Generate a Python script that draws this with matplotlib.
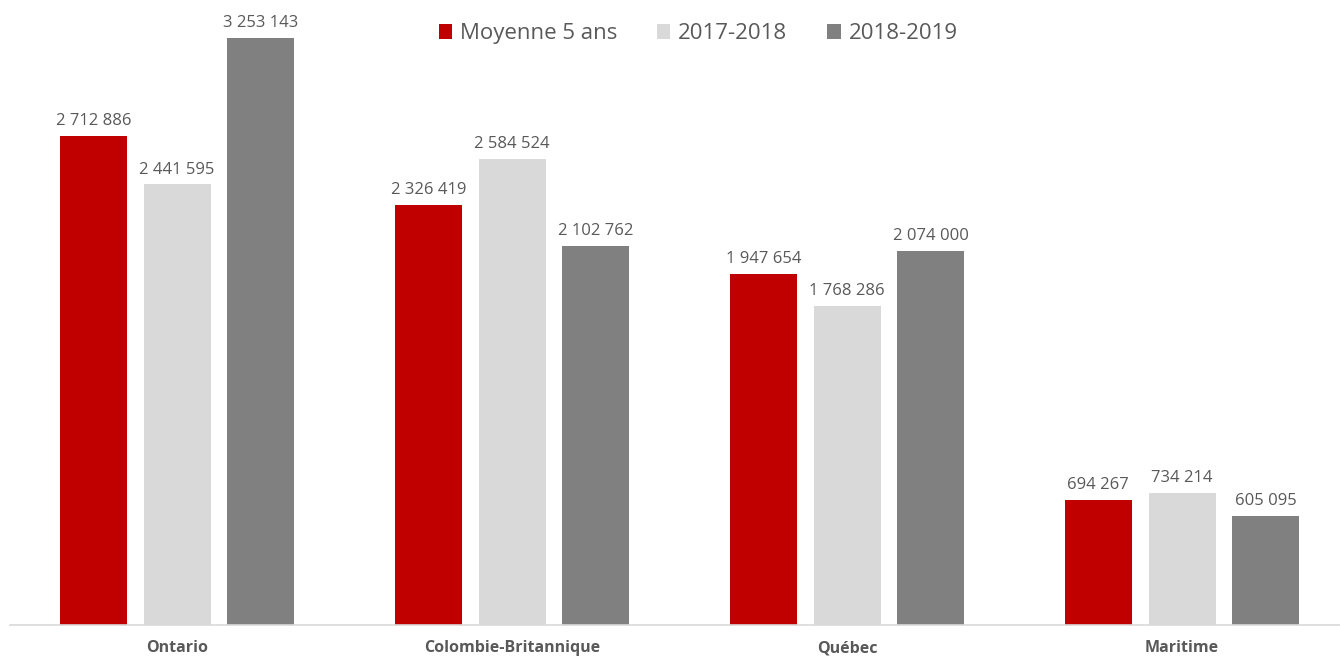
import matplotlib
matplotlib.use("Agg")
import matplotlib.pyplot as plt
import numpy as np

categories = ["Ontario", "Colombie-Britannique", "Québec", "Maritime"]
series_names = ["Moyenne 5 ans", "2017-2018", "2018-2019"]
moyenne = [2712886, 2326419, 1947654, 694267]
s2017 = [2441595, 2584524, 1768286, 734214]
s2018 = [3253143, 2102762, 2074000, 605095]
colors = ["#C00000", "#D9D9D9", "#808080"]

plt.rcParams['font.family'] = ['Open Sans', 'DejaVu Sans']
fig = plt.figure(figsize=(13.4, 6.58), dpi=100)
ax = fig.add_axes([9.5/1340, 33/658, 1340/1340, 631.5/658])

x = np.arange(len(categories))
width = 0.2
offsets = [-0.25, 0, 0.25]
for vals, name, col, off in zip([moyenne, s2017, s2018], series_names, colors, offsets):
    bars = ax.bar(x + off, vals, width, color=col, label=name)
    for b, v in zip(bars, vals):
        lbl = f"{v:,}".replace(",", " ")
        ax.annotate(lbl, (b.get_x() + b.get_width()/2, v), xytext=(0, 5),
                    textcoords="offset points", ha="center", va="bottom",
                    fontsize=12, color="#595959")

ax.set_xlim(-0.5, 3.5)
ax.set_ylim(0, 3500000)
ax.set_xticks(x)
ax.set_xticklabels(categories, fontsize=11.5, fontweight="bold", color="#595959")
ax.tick_params(axis="x", length=0, pad=11)
ax.set_yticks([])
for s in ["top", "right", "left"]:
    ax.spines[s].set_visible(False)
ax.spines["bottom"].set_color("#D9D9D9")
ax.spines["bottom"].set_linewidth(1.2)

leg = fig.legend(loc="upper center", bbox_to_anchor=(0.521, 0.995), ncol=3, frameon=False,
                 fontsize=16, handlelength=0.6, handleheight=0.6, columnspacing=1.8,
                 handletextpad=0.35)
for t in leg.get_texts():
    t.set_color("#595959")

fig.savefig("out.png", dpi=100)
